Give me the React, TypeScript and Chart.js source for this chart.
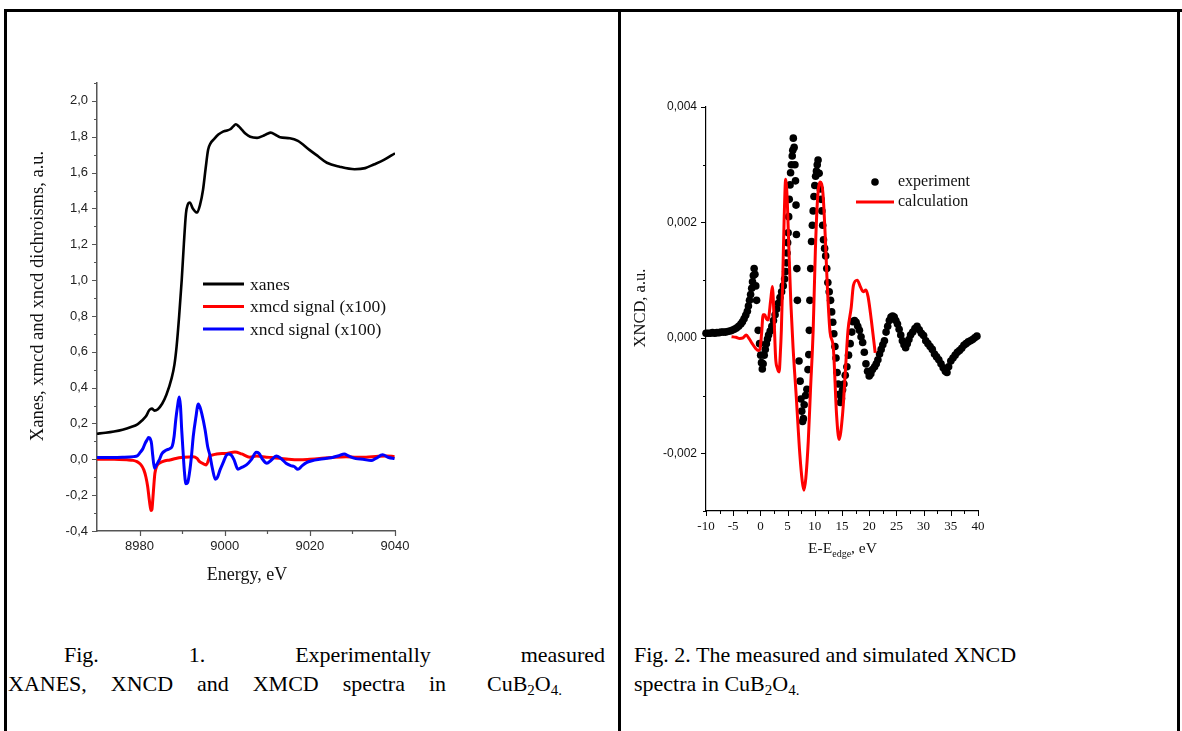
import React, { useEffect, useRef } from "react";
import { Chart, registerables } from "chart.js";

Chart.register(...registerables);

// ================= Fig. 1 : XANES / XMCD / XNCD =================
const xanesEnergy = [
  8970, 8972, 8974, 8976, 8978, 8979.5, 8980.5, 8981.5, 8982.3, 8982.9, 8983.5, 8984.3, 8985.3,
  8986.3, 8987.5, 8988.2, 8988.7, 8989.3, 8989.9, 8990.4, 8990.9, 8991.3, 8991.8, 8992.5, 8993.5,
  8994.2, 8994.9, 8995.5, 8996.1, 8996.7, 8997.3, 8998.5, 8999.6, 9000.5, 9001.3, 9002.0, 9002.6,
  9003.3, 9004.0, 9005.0, 9006.0, 9007.6, 9009.0, 9010.0, 9010.8, 9012.0, 9013.0, 9015.3, 9017.2,
  9019.9, 9022.0, 9024.0, 9027.0, 9030.5, 9033.0, 9035.0, 9037.5, 9040,
];
const xanesValue = [
  0.143, 0.148, 0.155, 0.165, 0.18, 0.195, 0.215, 0.24, 0.275, 0.283, 0.272, 0.28, 0.31,
  0.36, 0.45, 0.53, 0.63, 0.8, 1.0, 1.2, 1.373, 1.42, 1.433, 1.4, 1.377,
  1.42, 1.503, 1.62, 1.727, 1.765, 1.782, 1.812, 1.829, 1.835, 1.842, 1.858, 1.87,
  1.858, 1.84, 1.815, 1.8, 1.794, 1.805, 1.817, 1.823, 1.81, 1.797, 1.792, 1.777,
  1.727, 1.69, 1.655, 1.633, 1.619, 1.625, 1.645, 1.672, 1.708,
];

const xmcdEnergy = [
  8970, 8974, 8977, 8978.5, 8979.4, 8980.3, 8981, 8981.5, 8981.9, 8982.2, 8982.5, 8982.7, 8982.9,
  8983.1, 8983.4, 8983.6, 8984, 8984.8, 8986, 8987.1, 8988.5, 8990.3, 8992.6, 8993.5, 8994.1,
  8995, 8995.7, 8996.1, 8996.5, 8997.3, 8998.1, 9000.4, 9002.4, 9004, 9005.9, 9007.5, 9009.8,
  9011, 9012.9, 9015, 9017.6, 9020, 9022.3, 9025, 9028.5, 9031, 9033.2, 9035.5, 9037.9, 9039.9,
];
const xmcdValue = [
  0.0, 0.0, -0.003, -0.006, -0.013, -0.03, -0.059, -0.1, -0.152, -0.21, -0.263, -0.285, -0.28,
  -0.226, -0.13, -0.078, -0.04, -0.019, -0.008, -0.004, 0.005, 0.011, 0.015, 0.005, -0.013,
  -0.025, -0.031, -0.01, 0.019, 0.025, 0.03, 0.033, 0.041, 0.03, 0.012, 0.018, 0.012,
  0.01, 0.006, 0.0, -0.003, 0.0, 0.004, 0.01, 0.015, 0.012, 0.012, 0.016, 0.019, 0.015,
];

const xncdEnergy = [
  8970, 8973, 8976, 8978.6, 8979.5, 8980.1, 8980.8, 8981.3, 8981.8, 8982.1, 8982.5, 8982.8, 8983.1,
  8983.5, 8984, 8984.6, 8985.2, 8986.2, 8987.2, 8987.7, 8988.1, 8988.5, 8988.9, 8989.3, 8989.6,
  8989.9, 8990.2, 8990.5, 8990.9, 8991.3, 8991.7, 8992.2, 8992.6, 8993.2, 8993.8, 8994.2, 8994.6,
  8995.4, 8996.0, 8996.5, 8997.1, 8997.8, 8998.3, 8998.9, 8999.6, 9000.4, 9000.9, 9001.5, 9002.2,
  9003.1, 9004, 9005.1, 9006.3, 9007.4, 9008.0, 9008.9, 9009.9, 9010.9, 9012.1, 9013.2, 9014.4,
  9015.5, 9016.3, 9017.2, 9018.2, 9019.2, 9020.5, 9022.3, 9024, 9025.5, 9026.8, 9028.1, 9029,
  9030.8, 9032.5, 9034.4, 9035.5, 9037.1, 9038.5, 9039.9,
];
const xncdValue = [
  0.01, 0.01, 0.011, 0.015, 0.02, 0.037, 0.06, 0.089, 0.11, 0.122, 0.115, 0.089, 0.02,
  -0.05, -0.03, -0.005, 0.03, 0.05, 0.061, 0.075, 0.126, 0.22, 0.293, 0.348, 0.3,
  0.163, 0.05, -0.059, -0.137, -0.13, -0.08, 0.02, 0.126, 0.23, 0.309, 0.29, 0.256,
  0.164, 0.07, 0.025, -0.05, -0.111, -0.1, -0.059, -0.02, 0.024, 0.03, 0.025, -0.003,
  -0.055, -0.045, -0.031, 0.0, 0.039, 0.035, 0.0, -0.022, -0.005, 0.019, 0.005, -0.022,
  -0.035, -0.04, -0.056, -0.035, -0.018, -0.008, 0.0, 0.006, 0.012, 0.02, 0.03, 0.02,
  0.004, 0.0, -0.007, 0.005, 0.025, 0.01, 0.004,
];

const fig1XTicks = [8980, 9000, 9020, 9040];
const fig1XMinor = [8990, 9010, 9030];
const fig1YTicks = [-0.4, -0.2, 0, 0.2, 0.4, 0.6, 0.8, 1.0, 1.2, 1.4, 1.6, 1.8, 2.0];
const fig1YMinor = [-0.3, -0.1, 0.1, 0.3, 0.5, 0.7, 0.9, 1.1, 1.3, 1.5, 1.7, 1.9, 2.1];
const fig1Legend = ["xanes", "xmcd signal (x100)", "xncd signal (x100)"];
const fig1Colors = ["#000000", "#ff0000", "#0000ff"];

// ================= Fig. 2 : XNCD experiment vs calculation =================
const expEnergy = [
  -10, -9.6, -9.2, -8.8, -8.4, -8.0, -7.6, -7.2, -6.8, -6.4, -6.0, -5.6, -5.2, -4.8, -4.4, -4.0,
  -3.6, -3.3, -3.0, -2.7, -2.4, -2.2, -2.0, -1.8, -1.6, -1.45, -1.3, -1.15, -1.0, -0.85, -0.7,
  -0.4, -0.15, 0.05, 0.2, 0.35, 0.5, 0.7, 0.9, 1.1, 1.3, 1.5, 1.8, 2.1, 2.4, 2.7, 3.0, 3.3,
  3.6, 3.9, 4.2, 4.45, 4.65, 4.8, 4.9, 5.0, 5.1, 5.2, 5.3, 5.45, 5.55, 5.7, 5.85, 5.95, 6.05,
  6.2, 6.35, 6.45, 6.55, 6.62, 6.7, 6.8, 7.1, 7.3, 7.45, 7.6, 7.75, 7.9, 8.05, 8.3, 8.55, 8.75,
  8.9, 9.0, 9.1, 9.25, 9.4, 9.55, 9.7, 9.85, 10.0, 10.15, 10.3, 10.45, 10.6, 10.8, 11.0, 11.15,
  11.3, 11.45, 11.6, 11.8, 12.0, 12.2, 12.4, 12.65, 12.9, 13.1, 13.3, 13.5, 13.7, 13.9, 14.1,
  14.3, 14.5, 14.7, 14.9, 15.1, 15.35, 15.6, 15.9, 16.2, 16.5, 16.8, 17.0, 17.3, 17.6, 17.9,
  18.2, 18.5, 18.8, 19.1, 19.4, 19.7, 20.0, 20.3, 20.6, 21.0, 21.3, 21.6, 21.9, 22.2, 22.5,
  22.8, 23.1, 23.4, 23.7, 24.0, 24.3, 24.6, 24.9, 25.2, 25.5, 25.8, 26.1, 26.4, 26.7, 27.0,
  27.3, 27.6, 28.0, 28.4, 28.8, 29.2, 29.6, 30.0, 30.4, 30.8, 31.2, 31.6, 32.0, 32.4, 32.8,
  33.2, 33.6, 34.0, 34.3, 34.6, 35.0, 35.4, 35.8, 36.2, 36.6, 37.0, 37.4, 37.8, 38.2, 38.6,
  39.0, 39.4, 39.8,
];
const expXncd = [
  0.08e-3, 0.08e-3, 0.08e-3, 0.09e-3, 0.08e-3, 0.09e-3, 0.09e-3, 0.1e-3, 0.1e-3, 0.1e-3, 0.11e-3,
  0.12e-3, 0.13e-3, 0.15e-3, 0.17e-3, 0.2e-3, 0.24e-3, 0.28e-3, 0.33e-3, 0.39e-3, 0.46e-3, 0.55e-3,
  0.65e-3, 0.75e-3, 0.86e-3, 0.97e-3, 1.08e-3, 1.2e-3, 1.1e-3, 0.9e-3, 0.65e-3, 0.13e-3, -0.1e-3,
  -0.3e-3, -0.43e-3, -0.54e-3, -0.45e-3, -0.3e-3, -0.2e-3, -0.1e-3, -0.02e-3, 0.05e-3, 0.12e-3,
  0.2e-3, 0.3e-3, 0.4e-3, 0.5e-3, 0.6e-3, 0.7e-3, 0.8e-3, 0.9e-3, 1.02e-3, 1.15e-3, 1.3e-3,
  1.47e-3, 1.65e-3, 1.82e-3, 2.1e-3, 2.4e-3, 2.65e-3, 2.86e-3, 3.0e-3, 3.15e-3, 3.25e-3, 3.46e-3,
  3.3e-3, 3.0e-3, 2.72e-3, 2.3e-3, 1.79e-3, 1.2e-3, 0.65e-3, -0.4e-3, -0.75e-3, -1.06e-3,
  -1.27e-3, -1.45e-3, -1.4e-3, -1.16e-3, -1.0e-3, -0.89e-3, -0.55e-3, -0.29e-3, 0.13e-3, 0.65e-3,
  1.2e-3, 1.67e-3, 1.95e-3, 2.2e-3, 2.45e-3, 2.64e-3, 2.8e-3, 2.89e-3, 3.0e-3, 3.08e-3, 2.85e-3,
  2.58e-3, 2.4e-3, 2.2e-3, 1.95e-3, 1.7e-3, 1.55e-3, 1.42e-3, 1.2e-3, 0.96e-3, 0.8e-3, 0.65e-3,
  0.45e-3, 0.27e-3, 0.07e-3, -0.15e-3, -0.35e-3, -0.6e-3, -0.8e-3, -0.98e-3, -1.12e-3, -1.05e-3,
  -0.9e-3, -0.8e-3, -0.65e-3, -0.5e-3, -0.3e-3, -0.1e-3, 0.1e-3, 0.28e-3, 0.3e-3, 0.27e-3,
  0.2e-3, 0.13e-3, 0.02e-3, -0.08e-3, -0.25e-3, -0.45e-3, -0.58e-3, -0.66e-3, -0.62e-3, -0.55e-3,
  -0.5e-3, -0.45e-3, -0.38e-3, -0.28e-3, -0.2e-3, -0.12e-3, -0.05e-3, 0.1e-3, 0.2e-3, 0.3e-3,
  0.36e-3, 0.38e-3, 0.36e-3, 0.3e-3, 0.24e-3, 0.15e-3, 0.05e-3, -0.05e-3, -0.12e-3, -0.17e-3,
  -0.1e-3, -0.03e-3, 0.05e-3, 0.1e-3, 0.16e-3, 0.2e-3, 0.14e-3, 0.08e-3, 0.04e-3, -0.05e-3,
  -0.1e-3, -0.15e-3, -0.2e-3, -0.28e-3, -0.33e-3, -0.38e-3, -0.45e-3, -0.52e-3, -0.58e-3,
  -0.6e-3, -0.5e-3, -0.4e-3, -0.35e-3, -0.3e-3, -0.25e-3, -0.22e-3, -0.18e-3, -0.13e-3, -0.1e-3,
  -0.07e-3, -0.05e-3, -0.03e-3, 0.0, 0.03e-3,
];

const calcEnergy = [
  -5.3, -4.5, -3.8, -3.2, -2.6, -2.1, -1.5, -0.9, -0.4, -0.1, 0.2, 0.5, 0.8, 1.1, 1.4, 1.9, 2.2,
  2.5, 2.8, 3.1, 3.45, 3.65, 3.85, 4.1, 4.35, 4.65, 4.95, 5.25, 5.6, 6.0, 6.6, 7.25, 7.7, 8.0,
  8.35, 8.8, 9.2, 9.7, 10.1, 10.5, 11.0, 11.5, 11.9, 12.3, 12.8, 13.4, 14.0, 14.45, 15.1, 15.7,
  16.1, 16.7, 17.1, 17.8, 18.4, 18.9, 19.4, 19.8, 20.4, 21.1,
];
const calcXncd = [
  0.02e-3, 0.01e-3, -0.01e-3, 0.0, 0.05e-3, -0.01e-3, -0.1e-3, -0.18e-3, -0.22e-3, -0.2e-3,
  0.05e-3, 0.4e-3, 0.4e-3, 0.33e-3, 0.31e-3, 0.66e-3, 0.89e-3, 0.37e-3, -0.35e-3, -0.52e-3,
  -0.59e-3, -0.3e-3, 0.13e-3, 1.0e-3, 2.0e-3, 2.75e-3, 2.35e-3, 1.5e-3, 0.6e-3, -0.16e-3,
  -1.03e-3, -2.02e-3, -2.49e-3, -2.64e-3, -2.43e-3, -1.79e-3, -0.92e-3, 0.13e-3, 1.5e-3, 2.4e-3,
  2.7e-3, 2.5e-3, 1.8e-3, 0.9e-3, 0.1e-3, -0.17e-3, -1.33e-3, -1.76e-3, -1.33e-3, -0.45e-3,
  0.13e-3, 0.53e-3, 0.91e-3, 1.0e-3, 0.88e-3, 0.8e-3, 0.83e-3, 0.71e-3, 0.3e-3, -0.26e-3,
];

const fig2XTicks = [-10, -5, 0, 5, 10, 15, 20, 25, 30, 35, 40];
const fig2XMinor = [-7.5, -2.5, 2.5, 7.5, 12.5, 17.5, 22.5, 27.5, 32.5, 37.5];
const fig2YTicks = [-0.002, 0, 0.002, 0.004];
const fig2YMinor = [-0.003, -0.001, 0.001, 0.003];
const fig2Legend = ["experiment", "calculation"];

// ================= helpers =================
const SERIF = '"Liberation Serif", "Times New Roman", serif';
const SANS = '"Liberation Sans", Arial, sans-serif';

function pts(xs: number[], ys: number[]) {
  return xs.map((x, i) => ({ x, y: ys[i] }));
}

function drawTicks(chart: any, axis: "x" | "y", values: number[], len: number, color: string, width: number) {
  const scale = chart.scales[axis];
  const ctx = chart.ctx;
  const ca = chart.chartArea;
  ctx.save();
  ctx.strokeStyle = color;
  ctx.lineWidth = width;
  ctx.beginPath();
  for (const v of values) {
    const p = Math.round(scale.getPixelForValue(v)) + 0.5;
    if (axis === "x") {
      ctx.moveTo(p, ca.bottom);
      ctx.lineTo(p, ca.bottom + len);
    } else {
      ctx.moveTo(ca.left, p);
      ctx.lineTo(ca.left - len, p);
    }
  }
  ctx.stroke();
  ctx.restore();
}

function ChartCanvas({ config, left, top, width, height }: any) {
  const ref = useRef<HTMLCanvasElement | null>(null);
  useEffect(() => {
    if (!ref.current) return;
    const chart = new Chart(ref.current, config());
    return () => chart.destroy();
  }, []);
  return (
    <canvas
      ref={ref}
      width={width}
      height={height}
      style={{ position: "absolute", left, top, width, height }}
    />
  );
}

// ---------- Fig. 1 config ----------
const fig1Decor = {
  id: "fig1Decor",
  afterDraw(chart: any) {
    drawTicks(chart, "x", fig1XTicks, 5, "#555", 1.2);
    drawTicks(chart, "x", fig1XMinor, 3, "#555", 1.2);
    drawTicks(chart, "y", fig1YTicks, 5, "#555", 1.2);
    drawTicks(chart, "y", fig1YMinor, 3, "#555", 1.2);
    const ctx = chart.ctx;
    const ca = chart.chartArea;
    ctx.save();
    // y title
    ctx.fillStyle = "#111";
    ctx.font = `18.5px ${SERIF}`;
    ctx.textAlign = "center";
    ctx.textBaseline = "middle";
    ctx.translate(ca.left - 59, (ca.top + ca.bottom) / 2 - 11);
    ctx.rotate(-Math.PI / 2);
    ctx.fillText("Xanes, xmcd and xncd dichroisms, a.u.", 0, 0);
    ctx.restore();
    ctx.save();
    ctx.fillStyle = "#111";
    ctx.font = `18px ${SERIF}`;
    ctx.textAlign = "center";
    ctx.textBaseline = "middle";
    ctx.fillText("Energy, eV", ca.left + 150, ca.bottom + 44);
    // legend
    const lx = ca.left + 106;
    const ly = ca.top + 201;
    ctx.font = `17.5px ${SERIF}`;
    ctx.textAlign = "left";
    fig1Legend.forEach((label, i) => {
      const y = ly + i * 22.5;
      ctx.strokeStyle = fig1Colors[i];
      ctx.lineWidth = 3;
      ctx.beginPath();
      ctx.moveTo(lx, y);
      ctx.lineTo(lx + 41, y);
      ctx.stroke();
      ctx.fillStyle = "#111";
      ctx.fillText(label, lx + 47, y + 1);
    });
    ctx.restore();
  },
};

function fig1Config() {
  return {
    type: "line",
    data: {
      datasets: [
        {
          label: fig1Legend[2],
          data: pts(xncdEnergy, xncdValue),
          borderColor: fig1Colors[2],
          borderWidth: 3,
          pointRadius: 0,
          cubicInterpolationMode: "monotone",
          order: 0,
        },
        {
          label: fig1Legend[1],
          data: pts(xmcdEnergy, xmcdValue),
          borderColor: fig1Colors[1],
          borderWidth: 3,
          pointRadius: 0,
          cubicInterpolationMode: "monotone",
          order: 1,
        },
        {
          label: fig1Legend[0],
          data: pts(xanesEnergy, xanesValue),
          borderColor: fig1Colors[0],
          borderWidth: 2.6,
          pointRadius: 0,
          cubicInterpolationMode: "monotone",
          order: 2,
        },
      ],
    },
    options: {
      animation: false,
      responsive: false,
      events: [],
      layout: { padding: { left: 0, right: 53, top: 43, bottom: 0 } },
      plugins: { legend: { display: false }, tooltip: { enabled: false } },
      scales: {
        x: {
          type: "linear",
          min: 8970,
          max: 9040,
          afterFit: (s: any) => {
            s.height = 89;
          },
          afterBuildTicks: (s: any) => {
            s.ticks = fig1XTicks.map((v) => ({ value: v }));
          },
          grid: { display: false, drawTicks: true, tickLength: 5 },
          border: { display: true, color: "#555", width: 1.5 },
          ticks: {
            autoSkip: false,
            maxRotation: 0,
            padding: 3,
            color: "#222",
            font: { family: SANS, size: 13 },
            callback: (v: number) => String(v),
          },
        },
        y: {
          type: "linear",
          min: -0.4,
          max: 2.1,
          afterFit: (s: any) => {
            s.width = 89;
          },
          afterBuildTicks: (s: any) => {
            s.ticks = fig1YTicks.map((v) => ({ value: v }));
          },
          grid: { display: false, drawTicks: true, tickLength: 5 },
          border: { display: true, color: "#555", width: 1.5 },
          ticks: {
            autoSkip: false,
            padding: 4,
            color: "#222",
            font: { family: SANS, size: 13 },
            callback: (v: number) => v.toFixed(1).replace(".", ","),
          },
        },
      },
    },
    plugins: [fig1Decor],
  };
}

// ---------- Fig. 2 config ----------
const fig2Decor = {
  id: "fig2Decor",
  afterDraw(chart: any) {
    drawTicks(chart, "x", fig2XTicks, 5, "#000", 1);
    drawTicks(chart, "x", fig2XMinor, 3, "#000", 1);
    drawTicks(chart, "y", fig2YTicks, 5, "#000", 1);
    drawTicks(chart, "y", fig2YMinor, 3, "#000", 1);
    const ctx = chart.ctx;
    const ca = chart.chartArea;
    ctx.save();
    ctx.fillStyle = "#111";
    ctx.font = `16.5px ${SERIF}`;
    ctx.textAlign = "center";
    ctx.textBaseline = "middle";
    ctx.translate(ca.left - 65, (ca.top + ca.bottom) / 2 - 1);
    ctx.rotate(-Math.PI / 2);
    ctx.fillText("XNCD, a.u.", 0, 0);
    ctx.restore();

    // x title with subscript
    ctx.save();
    ctx.fillStyle = "#111";
    ctx.textBaseline = "alphabetic";
    ctx.textAlign = "left";
    const main = `15.5px ${SERIF}`;
    const sub = `10px ${SERIF}`;
    ctx.font = main;
    const w1 = ctx.measureText("E-E").width;
    const w3 = ctx.measureText(", eV").width;
    ctx.font = sub;
    const w2 = ctx.measureText("edge").width;
    const total = w1 + w2 + w3;
    let x = (ca.left + ca.right) / 2 - total / 2 + 0.5;
    const base = ca.bottom + 42;
    ctx.font = main;
    ctx.fillText("E-E", x, base);
    x += w1;
    ctx.font = sub;
    ctx.fillText("edge", x, base + 4);
    x += w2;
    ctx.font = main;
    ctx.fillText(", eV", x, base);
    ctx.restore();

    // legend
    ctx.save();
    const tx = ca.left + 192;
    const y1 = ca.top + 75;
    const y2 = y1 + 20;
    ctx.fillStyle = "#000";
    ctx.beginPath();
    ctx.arc(ca.left + 169, y1, 3.8, 0, Math.PI * 2);
    ctx.fill();
    ctx.strokeStyle = "#ff0000";
    ctx.lineWidth = 3;
    ctx.beginPath();
    ctx.moveTo(ca.left + 150, y2);
    ctx.lineTo(ca.left + 188, y2);
    ctx.stroke();
    ctx.fillStyle = "#111";
    ctx.font = `16px ${SERIF}`;
    ctx.textBaseline = "middle";
    ctx.textAlign = "left";
    ctx.fillText(fig2Legend[0], tx, y1);
    ctx.fillText(fig2Legend[1], tx, y2);
    ctx.restore();
  },
};

function fig2Config() {
  return {
    type: "line",
    data: {
      datasets: [
        {
          label: fig2Legend[1],
          data: pts(calcEnergy, calcXncd),
          borderColor: "#ff0000",
          borderWidth: 3,
          pointRadius: 0,
          cubicInterpolationMode: "monotone",
          order: 0,
          clip: false,
        },
        {
          label: fig2Legend[0],
          data: pts(expEnergy, expXncd),
          showLine: false,
          pointRadius: 3.8,
          pointBackgroundColor: "#000",
          pointBorderWidth: 0,
          borderColor: "#000",
          order: 1,
          clip: false,
        },
      ],
    },
    options: {
      animation: false,
      responsive: false,
      events: [],
      layout: { padding: { left: 0, right: 66, top: 47, bottom: 0 } },
      plugins: { legend: { display: false }, tooltip: { enabled: false } },
      scales: {
        x: {
          type: "linear",
          min: -10,
          max: 40,
          afterFit: (s: any) => {
            s.height = 89;
          },
          afterBuildTicks: (s: any) => {
            s.ticks = fig2XTicks.map((v) => ({ value: v }));
          },
          grid: { display: false, drawTicks: true, tickLength: 5 },
          border: { display: true, color: "#000", width: 1.2 },
          ticks: {
            autoSkip: false,
            maxRotation: 0,
            padding: 3,
            color: "#111",
            font: { family: SERIF, size: 13 },
            callback: (v: number) => String(v),
          },
        },
        y: {
          type: "linear",
          min: -0.003,
          max: 0.004,
          afterFit: (s: any) => {
            s.width = 82;
          },
          afterBuildTicks: (s: any) => {
            s.ticks = fig2YTicks.map((v) => ({ value: v }));
          },
          grid: { display: false, drawTicks: true, tickLength: 5 },
          border: { display: true, color: "#000", width: 1.2 },
          ticks: {
            autoSkip: false,
            padding: 4,
            color: "#111",
            font: { family: SANS, size: 12 },
            callback: (v: number) => v.toFixed(3).replace(".", ","),
          },
        },
      },
    },
    plugins: [fig2Decor],
  };
}

// ================= page =================
const captionStyle: any = {
  position: "absolute",
  fontFamily: SERIF,
  fontSize: 22,
  lineHeight: "25px",
  color: "#000",
  whiteSpace: "nowrap",
};
const justified: any = { whiteSpace: "normal", textAlign: "justify", textAlignLast: "justify" };
const subStyle: any = { fontSize: 15, verticalAlign: "-4px", lineHeight: 0 };

export default function App() {
  return (
    <div
      style={{
        position: "absolute",
        left: 0,
        top: 0,
        width: 1182,
        height: 731,
        background: "#fff",
        overflow: "hidden",
      }}
    >
      {/* table borders */}
      <div style={{ position: "absolute", left: 4, top: 9, width: 1178, height: 2.5, background: "#000" }} />
      <div style={{ position: "absolute", left: 4, top: 9, width: 2.5, height: 722, background: "#000" }} />
      <div style={{ position: "absolute", left: 618, top: 9, width: 2.5, height: 722, background: "#000" }} />
      <div style={{ position: "absolute", left: 1177, top: 9, width: 2.5, height: 722, background: "#000" }} />

      <ChartCanvas config={fig1Config} left={8} top={40} width={440} height={580} />
      <ChartCanvas config={fig2Config} left={624} top={60} width={420} height={540} />

      <div style={{ ...captionStyle, ...justified, left: 64, top: 642, width: 541 }}>
        Fig. 1. Experimentally measured
      </div>
      <div style={{ ...captionStyle, ...justified, left: 8, top: 671, width: 438 }}>
        XANES, XNCD and XMCD spectra in
      </div>
      <div style={{ ...captionStyle, left: 487, top: 671 }}>
        CuB<span style={subStyle}>2</span>O<span style={subStyle}>4.</span>
      </div>
      <div style={{ ...captionStyle, left: 634, top: 642 }}>Fig. 2. The measured and simulated XNCD</div>
      <div style={{ ...captionStyle, left: 634, top: 671 }}>
        spectra in CuB<span style={subStyle}>2</span>O<span style={subStyle}>4.</span>
      </div>
    </div>
  );
}
